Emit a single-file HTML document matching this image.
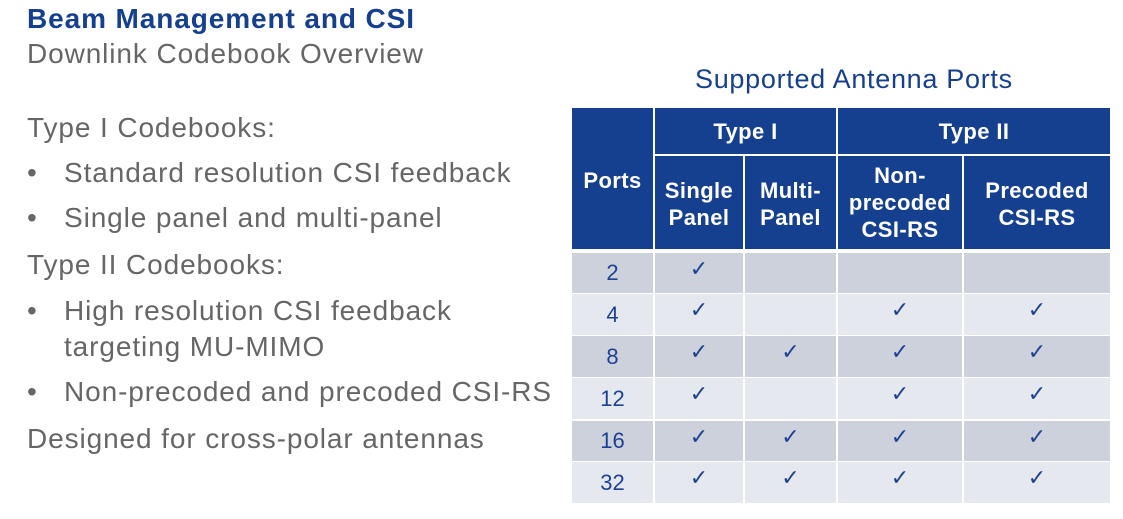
<!DOCTYPE html>
<html><head><meta charset="utf-8"><style>
body{margin:0;width:1123px;height:519px;background:#fff;position:relative;overflow:hidden;font-family:"Liberation Sans",sans-serif}
.t{position:absolute;white-space:nowrap;color:#666;font-size:28px;letter-spacing:0.9px}
.c{position:absolute;display:flex;align-items:center;justify-content:center;text-align:center;box-sizing:border-box}
.h{background:#15408f;color:#fff;font-weight:bold;font-size:22px;line-height:27px;letter-spacing:0.4px}
.d{background:#cdd1dc;color:#1d4294;font-size:22px}
.l{background:#e6e8ef;color:#1d4294;font-size:22px}
.k{font-family:"DejaVu Sans",sans-serif;font-size:22px}
</style></head><body>
<div class="t" style="left:27px;top:3px;font-size:28px;letter-spacing:0.9px;font-weight:bold;color:#15408f">Beam Management and CSI</div>
<div class="t" style="left:27px;top:38px">Downlink Codebook Overview</div>
<div class="t" style="left:695px;top:64px;font-size:27px;letter-spacing:0.7px;color:#15408f">Supported Antenna Ports</div>
<div class="t" style="left:27px;top:112px">Type I Codebooks:</div>
<div class="t" style="left:27px;top:157px">•</div><div class="t" style="left:64px;top:157px">Standard resolution CSI feedback</div>
<div class="t" style="left:27px;top:202px">•</div><div class="t" style="left:64px;top:202px">Single panel and multi-panel</div>
<div class="t" style="left:27px;top:249px">Type II Codebooks:</div>
<div class="t" style="left:27px;top:295px">•</div><div class="t" style="left:64px;top:295px">High resolution CSI feedback</div>
<div class="t" style="left:64px;top:331px">targeting MU-MIMO</div>
<div class="t" style="left:27px;top:376px">•</div><div class="t" style="left:64px;top:376px">Non-precoded and precoded CSI-RS</div>
<div class="t" style="left:27px;top:423px">Designed for cross-polar antennas</div>

<div class="c h" style="left:572px;top:108px;width:81px;height:141px;padding-top:4px">Ports</div>
<div class="c h" style="left:655px;top:108px;width:181px;height:46px">Type I</div>
<div class="c h" style="left:838px;top:108px;width:272px;height:46px">Type II</div>
<div class="c h" style="left:655px;top:156px;width:88px;height:93px;padding-top:2px">Single<br>Panel</div>
<div class="c h" style="left:745px;top:156px;width:91px;height:93px;padding-top:2px">Multi-<br>Panel</div>
<div class="c h" style="left:838px;top:156px;width:124px;height:93px">Non-<br>precoded<br>CSI-RS</div>
<div class="c h" style="left:964px;top:156px;width:146px;height:93px;padding-top:2px">Precoded<br>CSI-RS</div>

<div id="rows"></div>
<script>
var rows=[["2",253,293,"d",[1,0,0,0]],["4",294,335,"l",[1,0,1,1]],["8",336,377,"d",[1,1,1,1]],["12",378,419,"l",[1,0,1,1]],["16",421,461,"d",[1,1,1,1]],["32",462,503,"l",[1,1,1,1]]];
var cols=[[572,653],[655,743],[745,836],[838,962],[964,1110]];
var h="";
rows.forEach(function(r){
 for(var i=0;i<5;i++){
  var txt=i==0?r[0]:(r[4][i-1]?'<span class="k">✓</span>':'');
  h+='<div class="c '+r[3]+'" style="left:'+cols[i][0]+'px;top:'+r[1]+'px;width:'+(cols[i][1]-cols[i][0])+'px;height:'+(r[2]-r[1])+'px'+(i>0?';padding-bottom:8px':'')+'">'+txt+'</div>';
 }
});
document.getElementById('rows').innerHTML=h;
</script>
</body></html>
